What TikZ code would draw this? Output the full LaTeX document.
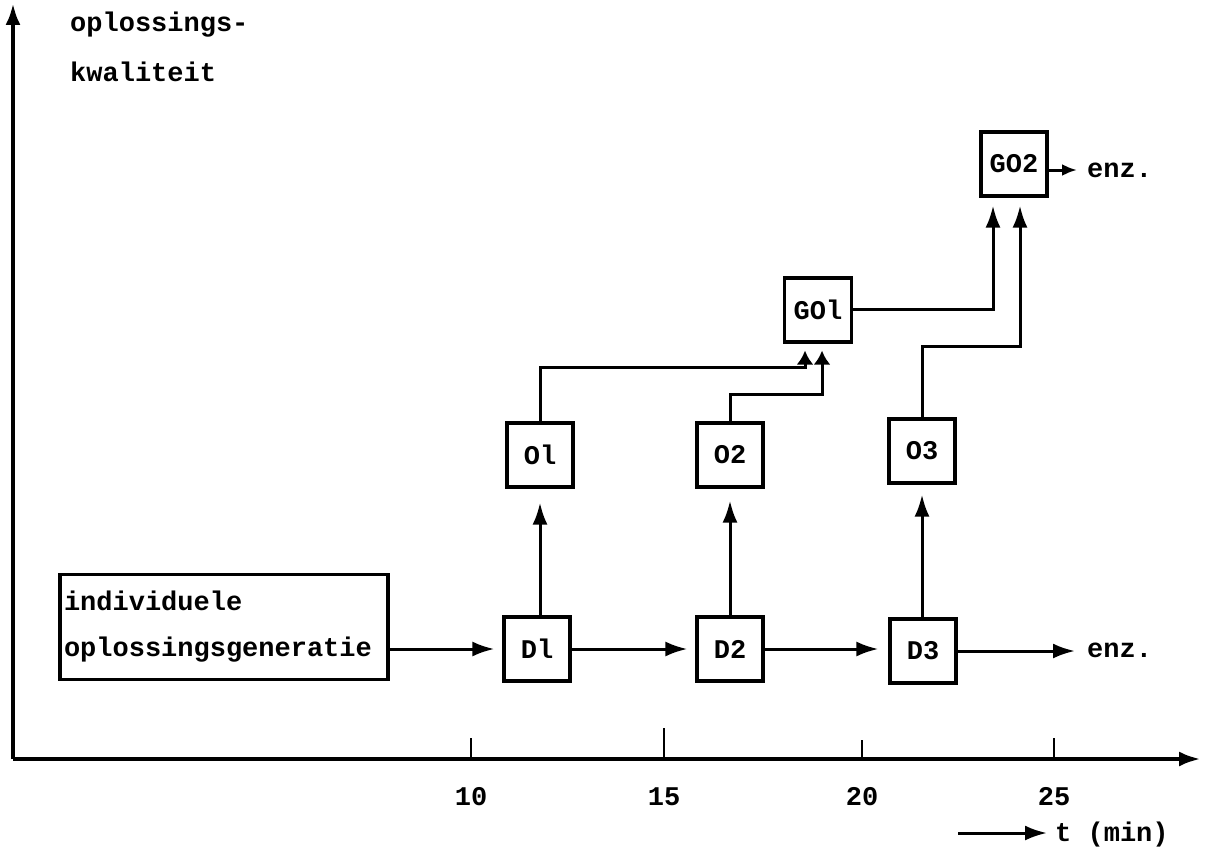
\documentclass[tikz,border=0pt]{standalone}
\usepackage{fontspec}
\setmainfont{Liberation Mono}
\usetikzlibrary{arrows.meta}
\begin{document}
\begin{tikzpicture}[x=1pt,y=-1pt,
  every node/.style={font=\bfseries\fontsize{27}{30}\selectfont, inner sep=0pt},
  box/.style={draw, line width=3.2pt, minimum width=66pt, minimum height=64pt},
  conn/.style={line width=3pt},
  arr/.style={conn, -{Latex[length=22pt,width=15pt]}},
  arrsmall/.style={conn, -{Latex[length=14pt,width=17pt]}},
  axis/.style={line width=4.4pt, -{Latex[length=22pt,width=15pt]}},
  tick/.style={line width=2.6pt},
  lab/.style={anchor=west}
]
\useasboundingbox (0,0) rectangle (1206,856);

% axes
\coordinate (origin) at (13,759);
\coordinate (ytop) at (13,3);
\coordinate (xend) at (1201,759);
\draw[axis] (origin) -- (ytop);
\draw[axis] (origin) -- (xend);

\node[lab] (ylab1) at (70,25) {oplossings-};
\node[lab] (ylab2) at (70,72) {kwaliteit};

% ticks
\coordinate (t10) at (471,759);
\coordinate (t15) at (664,759);
\coordinate (t20) at (862,759);
\coordinate (t25) at (1054,759);
\draw[tick] (t10) -- ++(0,-21);
\draw[tick] (t15) -- ++(0,-31);
\draw[tick] (t20) -- ++(0,-19);
\draw[tick] (t25) -- ++(0,-21);
\node (l10) at (471,797) {10};
\node (l15) at (664,797) {15};
\node (l20) at (862,797) {20};
\node (l25) at (1054,797) {25};

\node[lab] (tlab) at (1055,835) {t (min)};
\coordinate (tstart) at (958,833);
\draw[arr] (tstart) -- ([xshift=-8pt]tlab.west |- tstart);

% generation box
\node[draw, line width=3.2pt, align=left, text width=320pt, inner xsep=4pt,
      minimum height=105pt, font=\bfseries\fontsize{27}{46}\selectfont]
      (gen) at (224,627) {individuele\\oplossingsgeneratie};

% D boxes
\node[box] (D1) at (537,649) {Dl};
\node[box] (D2) at (730,649) {D2};
\node[box] (D3) at (923,651) {D3};
\node[lab] (enz1) at (1087,650) {enz.};

% O boxes
\node[box] (O1) at (540,455) {Ol};
\node[box] (O2) at (730,455) {O2};
\node[box] (O3) at (922,451) {O3};

% GO boxes
\node[box, minimum width=67pt] (GO1) at (818,310) {GOl};
\node[box] (GO2) at (1014,164) {GO2};
\node[lab] (enz2) at (1087,170) {enz.};

% horizontal flow
\draw[arr, shorten >=8pt] (gen.east |- D1.west) -- (D1.west);
\draw[arr, shorten >=8pt] (D1.east) -- (D2.west |- D1.east);
\draw[arr, shorten >=10pt] (D2.east) -- (D3.west |- D2.east);
\draw[arr, shorten >=12pt] (D3.east) -- (enz1.west |- D3.east);

% D -> O
\draw[arr, shorten >=14pt] (O1.south |- D1.north) -- (O1.south);
\draw[arr, shorten >=12pt] (O2.south |- D2.north) -- (O2.south);
\draw[arr, shorten >=10pt] (O3.south |- D3.north) -- (O3.south);

% O -> GO1
\coordinate (j1) at (805,367);
\coordinate (j2) at (822,394);
\draw[arrsmall, shorten >=7pt] (O1.north) |- (j1) -- (j1 |- GO1.south);
\draw[arrsmall, shorten >=7pt] (O2.north) |- (j2) -- (j2 |- GO1.south);

% -> GO2
\coordinate (j3) at (993,309);
\coordinate (j4) at (1020,346);
\draw[arr, shorten >=8pt] (GO1.east |- j3) -- (j3) -- (j3 |- GO2.south);
\draw[arr, shorten >=8pt] (O3.north) |- (j4) -- (j4 |- GO2.south);

\draw[conn, -{Latex[length=15pt,width=12pt]}, shorten >=10pt] (GO2.east |- enz2.west) -- (enz2.west);
\end{tikzpicture}
\end{document}
